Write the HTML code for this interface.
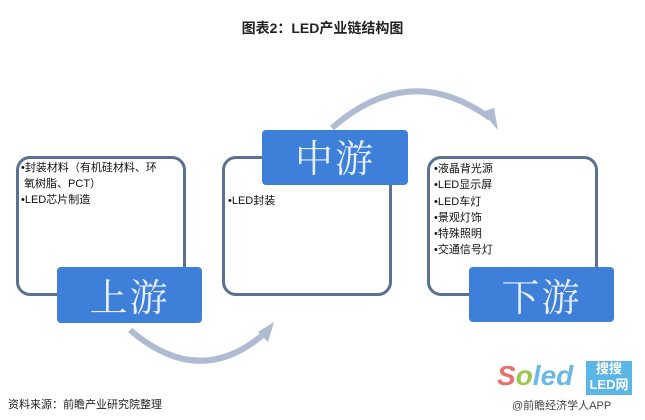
<!DOCTYPE html>
<html><head><meta charset="utf-8"><style>
body{margin:0;width:645px;height:420px;background:#fff;position:relative;overflow:hidden;font-family:"Liberation Sans","Noto Sans CJK SC",sans-serif;}
.box{position:absolute;border:3px solid #5b7194;border-radius:14px;background:#fff;box-sizing:border-box;}
.lbl{position:absolute;background:#3d7fd9;border-radius:4px;color:#e8f0ff;font-family:"Noto Serif CJK SC",serif;font-size:38px;text-align:center;letter-spacing:2px;}
.t{position:absolute;font-size:11px;line-height:16px;color:#111;}
</style></head><body>
<div style="position:absolute;top:18px;width:645px;text-align:center;font-weight:bold;font-size:14px;color:#222;">图表2：LED产业链结构图</div>
<svg width="645" height="420" style="position:absolute;left:0;top:0">
<path d="M332 128 Q410 60 490 118" fill="none" stroke="#aebbd2" stroke-width="6"/>
<polygon points="482,112 498,130 494,108" fill="#aebbd2"/>
<path d="M130 330 Q200 390 265 333" fill="none" stroke="#aebbd2" stroke-width="6"/>
<polygon points="258,332 274,322 268,342" fill="#aebbd2"/>
</svg>
<div class="box" style="left:16px;top:156px;width:170px;height:140px"></div>
<div class="t" style="left:21px;top:160px;width:160px">•封装材料（有机硅材料、环<br>&nbsp;氧树脂、PCT）<br>•LED芯片制造</div>
<div class="lbl" style="left:57px;top:267px;width:145px;height:56px;line-height:56px">上游</div>
<div class="box" style="left:222px;top:156px;width:170px;height:140px"></div>
<div class="lbl" style="left:262px;top:130px;width:146px;height:55px;line-height:52px">中游</div>
<div class="t" style="left:228px;top:193px">•LED封装</div>
<div class="box" style="left:427px;top:156px;width:171px;height:140px"></div>
<div class="t" style="left:434px;top:161px;line-height:16.3px">•液晶背光源<br>•LED显示屏<br>•LED车灯<br>•景观灯饰<br>•特殊照明<br>•交通信号灯</div>
<div class="lbl" style="left:469px;top:267px;width:145px;height:55px;line-height:55px">下游</div>
<div style="position:absolute;left:8px;top:396px;font-size:11px;color:#222">资料来源：前瞻产业研究院整理</div>
<div style="position:absolute;left:497px;top:360px;font-size:28px;font-weight:bold;font-style:italic;color:#6ab8e8"><span style="color:#e87070">S</span><span style="color:#9cc850">o</span>led</div>
<div style="position:absolute;left:586px;top:361px;width:46px;height:34px;background:#5bb6e8;color:#fff;font-size:13px;text-align:center;line-height:16px;font-weight:bold">搜搜<br>LED网</div>
<div style="position:absolute;left:512px;top:397px;font-size:11px;color:#444">@前瞻经济学人APP</div>
</body></html>
